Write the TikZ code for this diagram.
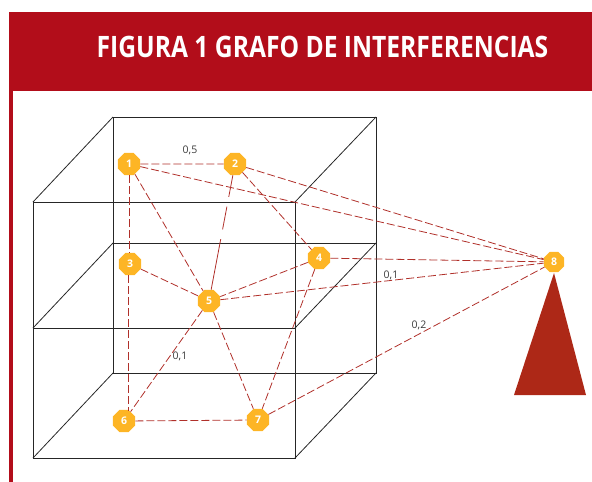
\documentclass[tikz,border=0pt]{standalone}
\usepackage{fontspec}
\setmainfont{Open Sans}
\usetikzlibrary{shapes.geometric}
\definecolor{bannerred}{HTML}{B20D1A}
\definecolor{conered}{HTML}{AD2817}
\definecolor{linkred}{HTML}{B0302A}
\definecolor{stationyellow}{HTML}{FDB525}
\definecolor{labelgrey}{HTML}{3A3A3A}

\tikzset{
    station/.style={regular polygon,regular polygon sides=8,fill=stationyellow,
        draw=none,minimum size=24pt,inner sep=0pt,text=white,font=\bfseries\fontsize{10.5}{10}\selectfont},
    link/.style={draw=linkred,line width=0.8pt,dash pattern=on 8pt off 3pt},
    edgeline/.style={draw=black!85,line width=0.8pt},
    weight/.style={text=labelgrey,font=\fontsize{10.5}{10}\selectfont,inner sep=0pt},
}

\begin{document}
\begin{tikzpicture}[x=1pt,y=-1pt]
    \useasboundingbox (0,0) rectangle (592,482);

    \fill[bannerred] (9,12) rectangle (592,91);
    \fill[bannerred] (9,88) rectangle (13,482);
    \node[text=white,font=\bfseries\fontsize{29.5}{30}\selectfont,xscale=0.835,inner sep=0pt] (title) at (322.5,46.5) {FIGURA 1 GRAFO DE INTERFERENCIAS};

    \coordinate (f1) at (33,202);
    \coordinate (f2) at (295,202);
    \coordinate (f3) at (295,458);
    \coordinate (f4) at (33,458);
    \coordinate (f5) at (33,328);
    \coordinate (f6) at (295,328);
    \coordinate (b1) at (113,117);
    \coordinate (b2) at (376,117);
    \coordinate (b3) at (376,373);
    \coordinate (b4) at (113,373);
    \coordinate (b5) at (113,243);
    \coordinate (b6) at (376,243);

    \draw[edgeline] (f1) -- (f2) -- (f3) -- (f4) -- cycle;
    \draw[edgeline] (b1) -- (b2) -- (b3) -- (b4) -- cycle;
    \draw[edgeline] (f5) -- (f6);
    \draw[edgeline] (b5) -- (b6);
    \draw[edgeline] (f1) -- (b1);
    \draw[edgeline] (f2) -- (b2);
    \draw[edgeline] (f3) -- (b3);
    \draw[edgeline] (f4) -- (b4);
    \draw[edgeline] (f5) -- (b5);
    \draw[edgeline] (f6) -- (b6);

    \fill[conered] (554,273) -- (514,395) -- (586,395) -- cycle;

    \node[station] (s1) at (129,164) {1};
    \node[station] (s2) at (235,164) {2};
    \node[station] (s3) at (130,264) {3};
    \node[station] (s4) at (319,258) {4};
    \node[station] (s5) at (209,301) {5};
    \node[station] (s6) at (124,421) {6};
    \node[station] (s7) at (258,420) {7};
    \node[station,minimum size=22pt] (s8) at (554,262) {8};

    \coordinate (s3top) at (129,253);
    \coordinate (s3low) at (128.5,275);
    \coordinate (s6top) at (128.5,411);

    \draw[link] (s1) -- (s2);
    \draw[link] (s1) -- (s3top);
    \draw[link] (s3low) -- (s6top);
    \draw[link] (s1) -- (s5);
    \draw[link] (s1) -- (s8);
    \draw[link,dash pattern=on 22pt off 10pt on 23pt off 10pt on 60pt off 0pt] (s2) -- (s5);
    \draw[link] (s2) -- (s4);
    \draw[link] (s2) -- (s8);
    \draw[link] (s3) -- (s5);
    \draw[link] (s4) -- (s5);
    \draw[link] (s4) -- (s7);
    \draw[link] (s4) -- (s8);
    \draw[link] (s5) -- (s6);
    \draw[link] (s5) -- (s7);
    \draw[link] (s5) -- (s8);
    \draw[link] (s6) -- (s7);
    \draw[link] (s7) -- (s8);

    \node[weight] (w12) at (190,150) {0,5};
    \node[weight] (w56) at (180,356) {0,1};
    \node[weight] (w58) at (391,275) {0,1};
    \node[weight] (w78) at (419,325) {0,2};
\end{tikzpicture}
\end{document}
